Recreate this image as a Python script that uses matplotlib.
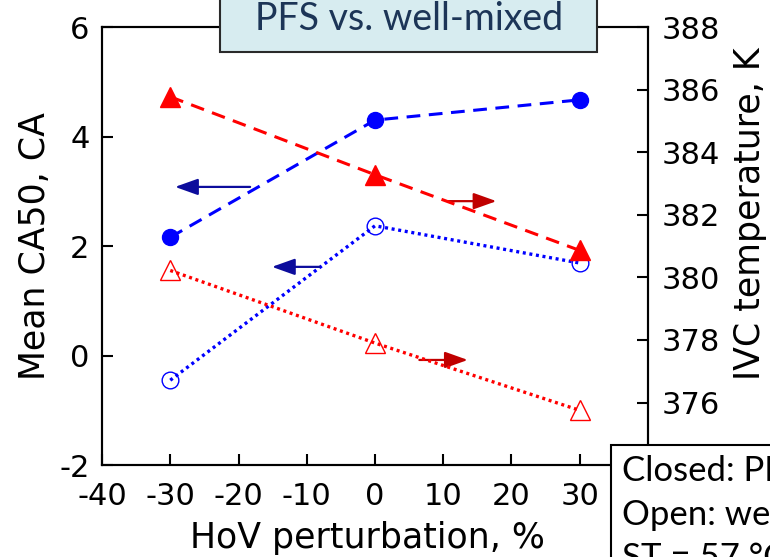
import matplotlib.pyplot as plt
from matplotlib.patches import Rectangle

# HoV perturbation levels, %
hov = [-30, 0, 30]

# mean CA50 (left axis), closed = PFS, open = well-mixed
ca50_pfs = [2.16, 4.30, 4.67]
ca50_mixed = [-0.45, 2.37, 1.69]

# IVC temperature (right axis), K
tivc_pfs = [385.77, 383.28, 380.86]
tivc_mixed = [380.22, 377.90, 375.75]

x_ticks = [-40, -30, -20, -10, 0, 10, 20, 30, 40]
y_ticks = [-2, 0, 2, 4, 6]
t_ticks = [374, 376, 378, 380, 382, 384, 386, 388]

plt.rcParams['font.family'] = 'DejaVu Sans'
plt.rcParams['font.size'] = 22
plt.rcParams['axes.unicode_minus'] = False

fig = plt.figure(figsize=(7.7, 5.57), dpi=100)
ax = fig.add_axes([0.1325, 0.165, 0.709, 0.7865])
ax2 = ax.twinx()

dash = (0, (4.5, 2.8))
dot = (0, (0.9, 1.1))

ax.plot(hov, ca50_pfs, color='blue', ls=dash, lw=2.2, marker='o', ms=11.5,
        mfc='blue', mec='blue', zorder=3)
ax.plot(hov, ca50_mixed, color='blue', ls=dot, lw=2.4, marker='o', ms=12,
        mfc='none', mec='blue', mew=1.0, zorder=3)
ax2.plot(hov, tivc_pfs, color='red', ls=dash, lw=2.2, marker='^', ms=14,
         mfc='red', mec='red', zorder=3)
ax2.plot(hov, tivc_mixed, color='red', ls=dot, lw=2.4, marker='^', ms=14,
         mfc='none', mec='red', mew=1.0, zorder=3)

# arrows pointing to the axis each curve belongs to
head = '-|>,head_length=0.7,head_width=0.25'
arrow_blue = dict(arrowstyle=head, color='#0c0c9c', lw=1.6, mutation_scale=20,
                  shrinkA=0, shrinkB=0)
arrow_red = dict(arrowstyle=head, color='#c00000', lw=1.6, mutation_scale=20,
                 shrinkA=0, shrinkB=0)
ax.annotate('', xy=(-29.3, 3.08), xytext=(-18.3, 3.08), arrowprops=arrow_blue)
ax.annotate('', xy=(-15.1, 1.62), xytext=(-8.1, 1.62), arrowprops=arrow_blue)
ax.annotate('', xy=(17.8, 2.82), xytext=(10.6, 2.82), arrowprops=arrow_red)
ax.annotate('', xy=(13.6, -0.08), xytext=(6.5, -0.08), arrowprops=arrow_red)

ax.set_xlim(-40, 40)
ax.set_ylim(-2, 6)
ax2.set_ylim(374, 388)
ax.set_xticks(x_ticks)
ax.set_yticks(y_ticks)
ax2.set_yticks(t_ticks)

ax.tick_params(axis='both', direction='in', length=8, width=1.5)
ax.tick_params(axis='y', pad=9)
ax.tick_params(axis='x', pad=12)
ax2.tick_params(axis='y', direction='in', length=8, width=1.5, pad=10)
for a in (ax, ax2):
    for s in a.spines.values():
        s.set_linewidth(1.5)

ax.set_xlabel('HoV perturbation, %', fontsize=25)
ax.set_ylabel('Mean CA50, CA', fontsize=25)
ax2.set_ylabel('IVC temperature, K', fontsize=25)
ax.xaxis.set_label_coords(0.487, -0.127)
ax.yaxis.set_label_coords(-0.092, 0.5)
ax2.yaxis.set_label_coords(1.156, 0.575)

# heading box at the top
fig.add_artist(Rectangle((0.2857, 0.9066), 0.4896, 0.2, transform=fig.transFigure,
                         facecolor='#d7ecf0', edgecolor='#2a2a2a', lw=1.5, zorder=5))
fig.text(0.531, 0.965, 'PFS vs. well-mixed', ha='center', va='center',
         family='Lato', fontsize=27, color='#1c3557', zorder=6)

# note box in the lower right corner
fig.add_artist(Rectangle((0.794, -0.1), 0.3, 0.301, transform=fig.transFigure,
                         facecolor='white', edgecolor='black', lw=1.5, zorder=5))
fig.text(0.808, 0.183, 'Closed: PFS\nOpen: well-mixed\nST = 57 \u00b0C',
         ha='left', va='top', family='Lato', fontsize=25, linespacing=1.45,
         color='black', zorder=6)

fig.savefig('out.png', dpi=100)
